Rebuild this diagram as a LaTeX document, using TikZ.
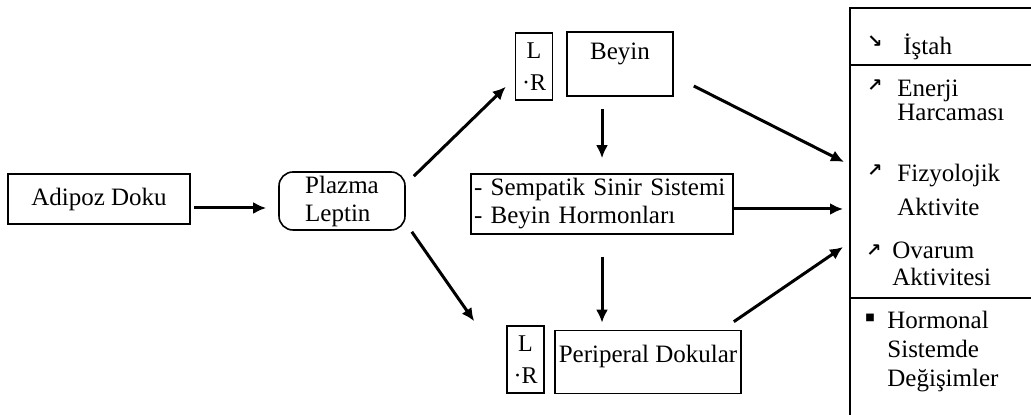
\documentclass[tikz,border=0pt]{standalone}
\usepackage{fontspec}
\setmainfont{Liberation Serif}
\newfontfamily\isaret{DejaVu Sans}
\usetikzlibrary{arrows.meta}
\tikzset{>={Latex[length=6.5pt,width=6pt]}}
\tikzset{kutu/.style={draw, line width=0.8pt, inner sep=0pt, font=\fontsize{12.5}{14}\selectfont}}
\tikzset{lrkutu/.style={kutu, minimum width=18.5pt, minimum height=33.5pt, align=center, font=\fontsize{12}{16}\selectfont}}
\tikzset{ok/.style={->, line width=1.5pt}}
\tikzset{madde/.style={anchor=west, align=left, inner sep=0pt, font=\fontsize{12.5}{13.5}\selectfont}}
\tikzset{isaretci/.style={inner sep=0pt, font=\isaret\bfseries\fontsize{9}{9}\selectfont}}

\begin{document}
\begin{tikzpicture}[x=0.5pt,y=-0.5pt]
\useasboundingbox (0,0) rectangle (1031,415);

% sol taraf
\node[kutu, minimum width=91pt, minimum height=25pt] (adipoz) at (99,199) {Adipoz Doku};
\node[kutu, rounded corners=7pt, minimum width=63pt, minimum height=29pt, align=left] (plazma) at (342,201) {Plazma\\Leptin};

% orta
\node[lrkutu] (lr1) at (534,66.5) {L\\·R};
\node[kutu, minimum width=53pt, text height=14pt, text depth=18pt] (beyin) at (620,64) {Beyin};
\node[kutu, text width=128pt, inner xsep=1.5pt, minimum height=30pt, align=left, font=\fontsize{12.5}{14}\selectfont] (sinir) at (602,204) {- Sempatik Sinir Sistemi\\- Beyin Hormonları};
\node[lrkutu] (lr2) at (525.5,359.5) {L\\·R};
\node[kutu, minimum width=93pt, text height=16pt, text depth=15.5pt] (periperal) at (648,362) {Periperal Dokular};

% sag kutu
\draw[line width=0.8pt] (850,415) -- (850,8) -- (1031,8);
\draw[line width=0.8pt] (850,65) -- (1031,65);
\draw[line width=0.8pt] (850,298) -- (1031,298);
\coordinate (e1) at (844,162);
\coordinate (e2) at (843,209);
\coordinate (e3) at (843,247);

\node[isaretci] (i1) at (875,42) {↘};
\node[madde] (istah) at (903,47) {İştah};
\node[isaretci] (i2) at (875,86) {↗};
\node[madde, font=\fontsize{12.5}{12}\selectfont] (enerji) at (897,100) {Enerji\\Harcaması};
\node[isaretci] (i3) at (875,171) {↗};
\node[madde, font=\fontsize{12.5}{17}\selectfont] (fizyo) at (897,190) {Fizyolojik\\Aktivite};
\node[isaretci] (i4) at (874,251) {↗};
\node[madde] (ovarum) at (892,264) {Ovarum\\Aktivitesi};
\node[isaretci, font=\isaret\fontsize{5}{5}\selectfont] (i5) at (870,318) {■};
\node[madde, font=\fontsize{12.5}{14.5}\selectfont] (hormonal) at (887,352) {Hormonal\\Sistemde\\Değişimler};

% oklar
\draw[ok] ([xshift=1.5pt,yshift=-4.5pt]adipoz.east) -- ([xshift=-6pt,yshift=-3.5pt]plazma.west);
\draw[ok] ([xshift=4pt,yshift=-2.5pt]plazma.north east) -- ([xshift=-4.5pt,yshift=7pt]lr1.south west);
\draw[ok] ([xshift=3pt,yshift=-0.5pt]plazma.south east) -- ([xshift=-16pt,yshift=2pt]lr2.north west);
\draw[ok] ([xshift=-9pt,yshift=-6pt]beyin.south) -- ([yshift=7.5pt]sinir.north);
\draw[ok] ([yshift=-11pt]sinir.south) -- ([xshift=-23pt,yshift=3.5pt]periperal.north);
\draw[ok] ([xshift=10pt,yshift=-11pt]beyin.east) -- (e1);
\draw[ok] ([yshift=-2.5pt]sinir.east) -- (e2);
\draw[ok] ([xshift=-4pt,yshift=4pt]periperal.north east) -- (e3);
\end{tikzpicture}
\end{document}
